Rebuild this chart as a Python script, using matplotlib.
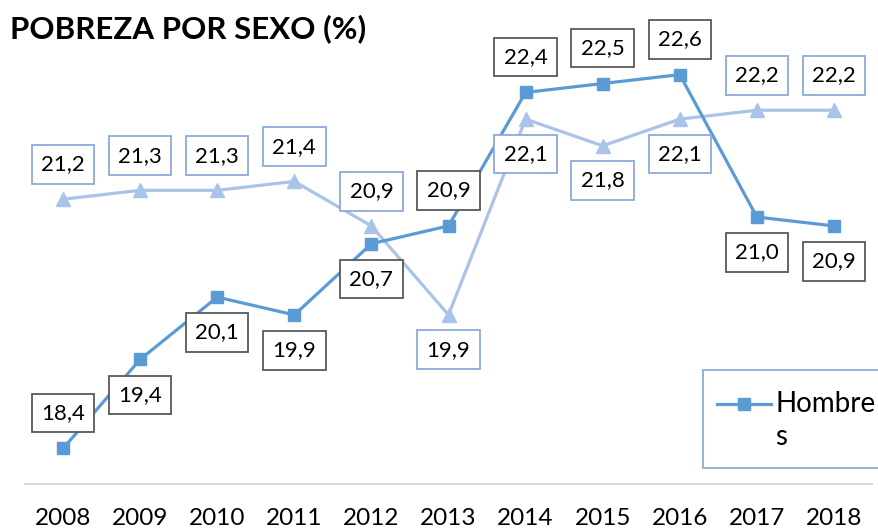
import matplotlib.pyplot as plt
from matplotlib.lines import Line2D
from matplotlib.patches import Rectangle

plt.rcParams['font.family'] = ['Lato', 'DejaVu Sans']

years = ['2008', '2009', '2010', '2011', '2012', '2013', '2014', '2015', '2016', '2017', '2018']
hombres = [18.4, 19.4, 20.1, 19.9, 20.7, 20.9, 22.4, 22.5, 22.6, 21.0, 20.9]
mujeres = [21.2, 21.3, 21.3, 21.4, 20.9, 19.9, 22.1, 21.8, 22.1, 22.2, 22.2]
# label side: +1 above the point, -1 below
hombres_side = [1, -1, -1, -1, -1, 1, 1, 1, 1, -1, -1]
mujeres_side = [1, 1, 1, 1, 1, -1, -1, -1, -1, 1, 1]

c_h = '#5b9bd5'
c_m = '#a9c4e8'

fig = plt.figure(figsize=(8.79, 5.28), dpi=100)
ax = fig.add_axes([0.0279, 0.0833, 0.9647, 0.8428])

x = range(len(years))
ax.plot(x, mujeres, color=c_m, lw=2.3, marker='^', ms=10, zorder=2, label='Mujeres')
ax.plot(x, hombres, color=c_h, lw=2.3, marker='s', ms=9, zorder=3, label='Hombres')

def fmt(v):
    return f'{v:.1f}'.replace('.', ',')

box = dict(boxstyle='square,pad=0.42', fc='white', lw=1.3)
for xi, v, s in zip(x, mujeres, mujeres_side):
    ax.annotate(fmt(v), (xi, v), xytext=(0, 25 * s), textcoords='offset points',
                ha='center', va='center', fontsize=16, zorder=4,
                bbox=dict(box, ec='#8eaadb'))
for xi, v, s in zip(x, hombres, hombres_side):
    ax.annotate(fmt(v), (xi, v), xytext=(0, 25.5 * s), textcoords='offset points',
                ha='center', va='center', fontsize=16, zorder=5,
                bbox=dict(box, ec='#595959'))

ax.set_xlim(-0.5, len(years) - 0.5)
ax.set_ylim(18, 23)
ax.set_xticks(list(x))
ax.set_xticklabels(years, fontsize=17.5)
ax.set_yticks([])
ax.tick_params(axis='x', length=0, pad=17)
for side in ['top', 'right', 'left']:
    ax.spines[side].set_visible(False)
ax.spines['bottom'].set_color('#d9d9d9')
ax.spines['bottom'].set_linewidth(1.5)

fig.text(0.011, 0.945, 'POBREZA POR SEXO (%)', fontsize=22.5, fontweight='bold', ha='left', va='center')

# legend (cut by the right edge, as in the source)
W, H = 879, 528
fig.patches.append(Rectangle((703 / W, 1 - 468 / H), 200 / W, 98 / H, transform=fig.transFigure,
                             fc='white', ec='#8eaadb', lw=1.3, zorder=6))
fig.lines.append(Line2D([717 / W, 771 / W], [1 - 404 / H] * 2, transform=fig.transFigure,
                        color=c_h, lw=2.3, zorder=7))
fig.lines.append(Line2D([744 / W], [1 - 404 / H], transform=fig.transFigure,
                        color=c_h, marker='s', ms=9, zorder=7))
fig.text(775 / W, 1 - 404 / H, 'Hombre', fontsize=20, ha='left', va='center', zorder=8)
fig.text(775 / W, 1 - 437 / H, 's', fontsize=20, ha='left', va='center', zorder=8)

fig.savefig('out.png', dpi=100)
